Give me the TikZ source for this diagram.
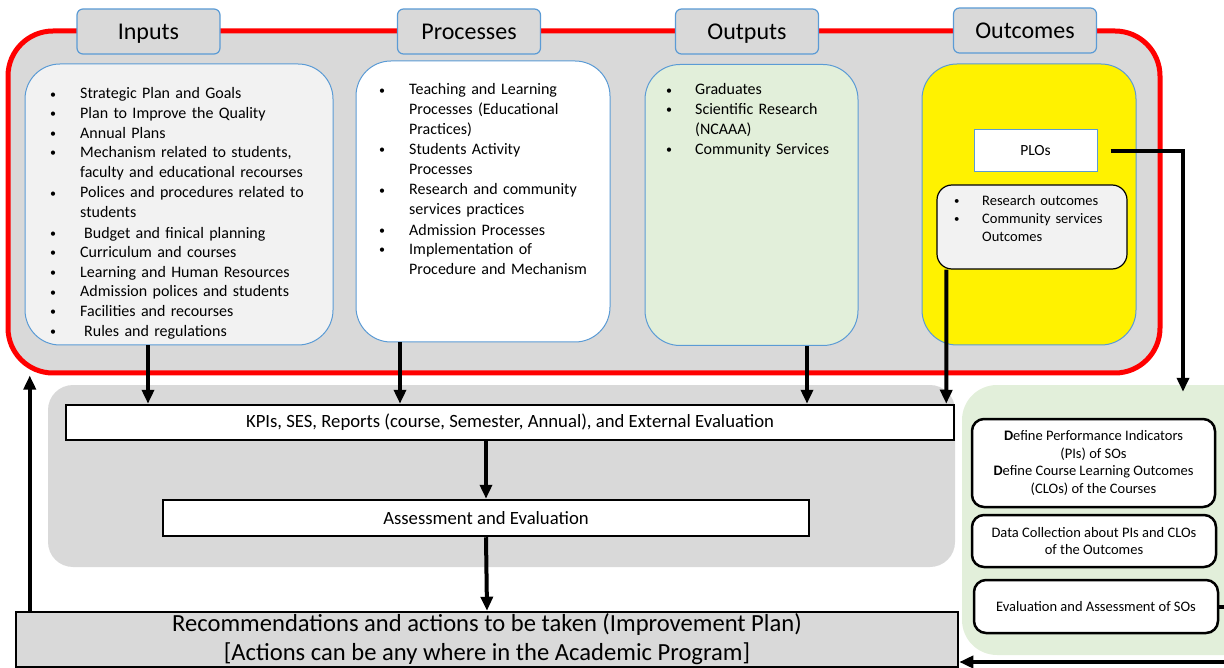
\documentclass[tikz,border=0pt]{standalone}
\usepackage{fontspec}
\setmainfont{Carlito}
\usetikzlibrary{arrows.meta}

\definecolor{panelgray}{HTML}{D9D9D9}
\definecolor{paper}{HTML}{F2F2F2}
\definecolor{palegreen}{HTML}{E2EFDA}
\definecolor{edgeblue}{HTML}{5B9BD5}

\newlength{\bind}
\setlength{\bind}{30pt}
\newcommand{\bitem}[1]{\noindent\makebox[\bind][l]{\raisebox{0.8pt}{\scalebox{0.75}{•}}}\begin{tabular}[t]{@{}l@{}}#1\end{tabular}\par}

\begin{document}
\begin{tikzpicture}[x=1pt, y=-1pt, >={Triangle[length=14pt,width=12pt]}]

\tikzstyle{tab}=[draw=edgeblue, line width=1.2pt, fill=panelgray, rounded corners=6pt, minimum width=143pt, minimum height=45pt, text height=18pt, text depth=2pt, font=\fontsize{24}{28}\selectfont]
\tikzstyle{panel}=[draw=edgeblue, line width=1pt, rounded corners=35pt, minimum height=281pt]
\tikzstyle{list}=[anchor=north west, inner sep=0pt, font=\fontsize{16}{19.6}\selectfont]
\tikzstyle{bar}=[draw, line width=2.5pt, fill=white, inner sep=0pt, font=\fontsize{18.7}{23}\selectfont]
\tikzstyle{sobox}=[draw, line width=2.5pt, fill=white, rounded corners=12pt, minimum width=244pt, align=center, inner sep=0pt, font=\fontsize{14.5}{17.8}\selectfont]
\tikzstyle{arr}=[->, line width=4pt]

\useasboundingbox (0,0) rectangle (1224,668);

% --- red frame with the four columns ---
\node[draw=red, line width=5pt, fill=panelgray, rounded corners=45pt, minimum width=1152pt, minimum height=342pt] (frame) at (584,202) {};

\node[tab] (inputs) at (148.5,31.5) {Inputs};
\node[tab] (processes) at (469,31.5) {Processes};
\node[tab] (outputs) at (747,31.5) {Outputs};
\node[tab] (outcomes) at (1025,30.5) {Outcomes};

\node[panel, fill=paper, minimum width=308pt] (in_box) at (179,204.5) {};
\node[panel, fill=white, minimum width=254pt] (pr_box) at (483,201.5) {};
\node[panel, fill=palegreen, minimum width=213pt] (out_box) at (751.5,205) {};
\node[panel, fill=yellow, minimum width=214pt] (oc_box) at (1029,204.5) {};

\node[list, text width=300pt] (in_txt) at (50,85) {%
\bitem{Strategic Plan and Goals}
\bitem{Plan to Improve the Quality}
\bitem{Annual Plans}
\bitem{Mechanism related to students,\\faculty and educational recourses}
\bitem{Polices and procedures related to\\students}
\bitem{\hspace{4pt}Budget and finical planning}
\bitem{Curriculum and courses}
\bitem{Learning and Human Resources}
\bitem{Admission polices and students}
\bitem{Facilities and recourses}
\bitem{\hspace{4pt}Rules and regulations}};

\node[list, text width=230pt] (pr_txt) at (379,81) {%
\bitem{Teaching and Learning\\Processes (Educational\\Practices)}
\bitem{Students Activity\\Processes}
\bitem{Research and community\\services practices}
\bitem{Admission Processes}
\bitem{Implementation of\\Procedure and Mechanism}};

\node[list, text width=190pt] (out_txt) at (666,81) {%
\setlength{\bind}{29pt}%
\bitem{Graduates}
\bitem{Scientific Research\\(NCAAA)}
\bitem{Community Services}};

\node[draw=edgeblue, line width=1pt, fill=white, minimum width=123pt, minimum height=42pt, font=\fontsize{15.5}{18}\selectfont] (plo) at (1035.5,151) {PLOs};

\node[draw, line width=1.2pt, fill=paper, rounded corners=15pt, minimum width=190pt, minimum height=84pt] (res_box) at (1032,227) {};
\node[list, text width=175pt, font=\fontsize{14.5}{18}\selectfont] (res_txt) at (954,192.5) {%
\setlength{\bind}{28pt}%
\bitem{Research outcomes}
\bitem{Community services\\Outcomes}};

% --- evaluation chain ---
\node[fill=panelgray, rounded corners=25pt, minimum width=907pt, minimum height=182pt] (evalzone) at (501.5,476) {};
\node[fill=palegreen, rounded corners=35pt, minimum width=298pt, minimum height=270pt] (sozone) at (1111,520) {};

\node[bar, minimum width=888pt, minimum height=35pt] (kpi) at (510,422.5) {KPIs, SES, Reports (course, Semester, Annual), and External Evaluation};
\node[bar, minimum width=646pt, minimum height=36pt] (assess) at (486,518) {Assessment and Evaluation};
\node[bar, fill=panelgray, minimum width=942pt, minimum height=55pt, align=center, font=\fontsize{24.6}{29}\selectfont] (rec) at (487,639.5) {Recommendations and actions to be taken (Improvement Plan)\\{}[Actions can be any where in the Academic Program]};

% --- student outcomes steps ---
\node[sobox, minimum width=243pt, minimum height=88pt] (define) at (1093.5,463) {\textbf{D}efine Performance Indicators\\(PIs) of SOs\\\textbf{D}efine Course Learning Outcomes\\(CLOs) of the Courses};
\node[sobox, minimum height=52pt] (collect) at (1094,541) {Data Collection about PIs and CLOs\\of the Outcomes};
\node[sobox, minimum height=53pt] (evalso) at (1096,606.5) {Evaluation and Assessment of SOs};

% --- arrows ---
\draw[arr] ([xshift=-31pt]in_box.south) -- ([xshift=-31pt]in_box.south |- kpi.north);
\draw[arr] ([xshift=-83pt]pr_box.south) -- ([xshift=-83pt]pr_box.south |- kpi.north);
\draw[arr] ([xshift=55.5pt]out_box.south) -- ([xshift=55.5pt]out_box.south |- kpi.north);
\draw[arr] ([xshift=10pt]res_box.south west) -- ([xshift=-9pt]kpi.north east);
\draw[arr] ([xshift=13pt]plo.east) -| ([xshift=72pt,yshift=-7pt]sozone.north);
\draw[arr] (kpi.south -| assess.north) -- (assess.north);
\draw[arr] (assess.south) -- (rec.north);
\draw[arr] ([xshift=15pt]rec.north west) -- ([xshift=15pt]rec.north west |- frame.south);
\draw[arr] (evalso.east) -- ++(20,0) |- ([yshift=-22.5pt]rec.east);

\end{tikzpicture}
\end{document}
